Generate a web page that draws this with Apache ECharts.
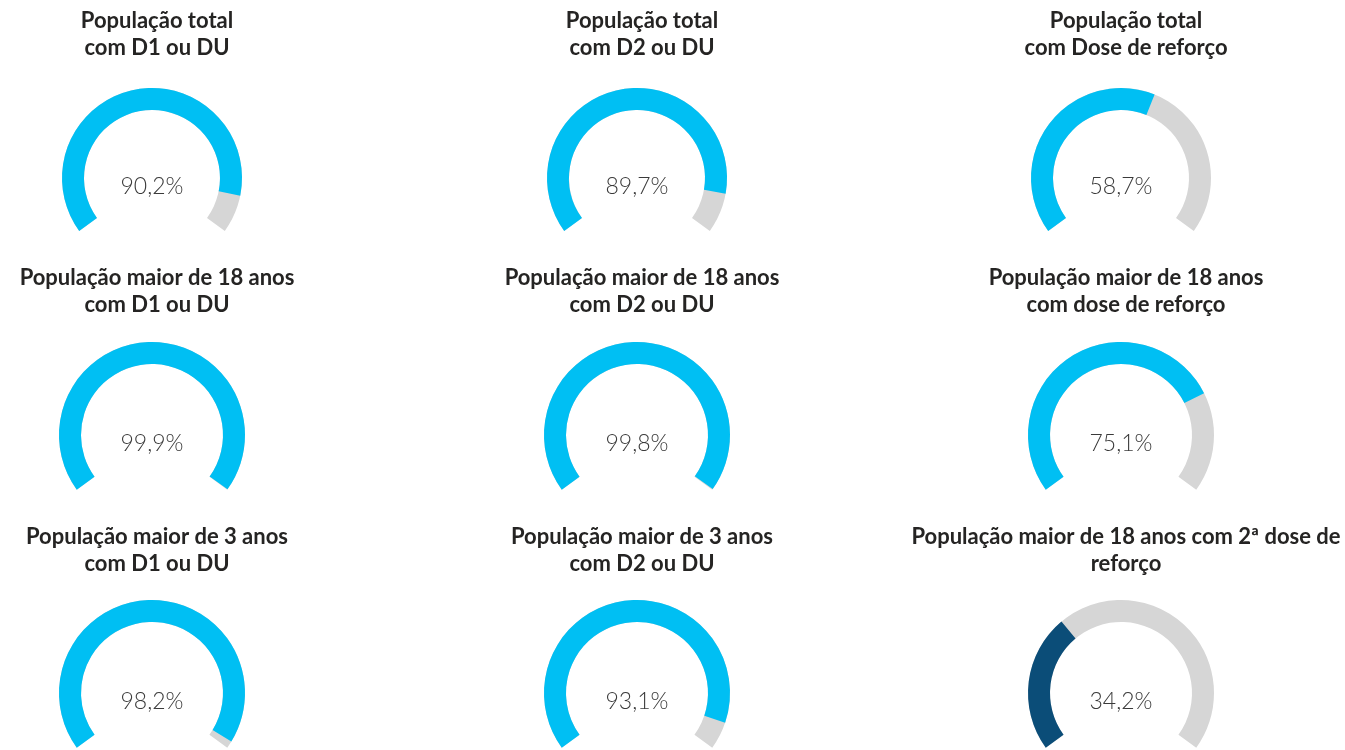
<!DOCTYPE html>
<html>
<head>
<meta charset="utf-8">
<script src="https://cdn.jsdelivr.net/npm/echarts@6/dist/echarts.min.js"></script>
<style>
  html, body { margin: 0; padding: 0; background: #fff; }
  #chart { width: 1345px; height: 750px; }
</style>
</head>
<body>
<div id="chart"></div>
<script>
// títulos de cada indicador (linha quebrada como no painel)
const titles = [
  'População total\ncom D1 ou DU',
  'População total\ncom D2 ou DU',
  'População total\ncom Dose de reforço',
  'População maior de 18 anos\ncom D1 ou DU',
  'População maior de 18 anos\ncom D2 ou DU',
  'População maior de 18 anos\ncom dose de reforço',
  'População maior de 3 anos\ncom D1 ou DU',
  'População maior de 3 anos\ncom D2 ou DU',
  'População maior de 18 anos com 2ª dose de\nreforço'
]
// percentuais de cobertura
const values = [90.2, 89.7, 58.7, 99.9, 99.8, 75.1, 98.2, 93.1, 34.2]
// cor do arco preenchido
const fillColors = ['#00BFF3', '#00BFF3', '#00BFF3', '#00BFF3', '#00BFF3', '#00BFF3', '#00BFF3', '#00BFF3', '#0B4D78']

// posição da grade 3x3
const colX = [152, 637, 1121]
const rowTitleY = [2, 259, 518]
const rowCenterY = [178, 435, 693]
const rowRadius = [90, 93, 93]

const chart = echarts.init(document.getElementById('chart'))

const fmt = v => v.toFixed(1).replace('.', ',') + '%'

const title = titles.map((t, i) => ({
  text: t,
  left: colX[i % 3],
  top: rowTitleY[Math.floor(i / 3)],
  textAlign: 'center',
  textStyle: {
    fontFamily: 'Lato',
    fontWeight: 'bold',
    fontSize: 22,
    lineHeight: 27,
    color: '#252423'
  }
}))

const series = values.map((v, i) => ({
  type: 'gauge',
  center: [colX[i % 3], rowCenterY[Math.floor(i / 3)]],
  radius: rowRadius[Math.floor(i / 3)],
  startAngle: 216,
  endAngle: -36,
  min: 0,
  max: 100,
  pointer: { show: false },
  progress: {
    show: true,
    width: 22,
    roundCap: false,
    itemStyle: { color: fillColors[i] }
  },
  axisLine: {
    lineStyle: { width: 22, color: [[1, '#D6D6D6']] }
  },
  axisTick: { show: false },
  splitLine: { show: false },
  axisLabel: { show: false },
  title: { show: false },
  detail: {
    offsetCenter: [0, 9],
    fontFamily: 'Lato',
    fontWeight: 300,
    fontSize: 23,
    color: '#3A3A3A',
    formatter: fmt
  },
  data: [{ value: v }]
}))

chart.setOption({
  animation: false,
  title,
  series
})
</script>
</body>
</html>
